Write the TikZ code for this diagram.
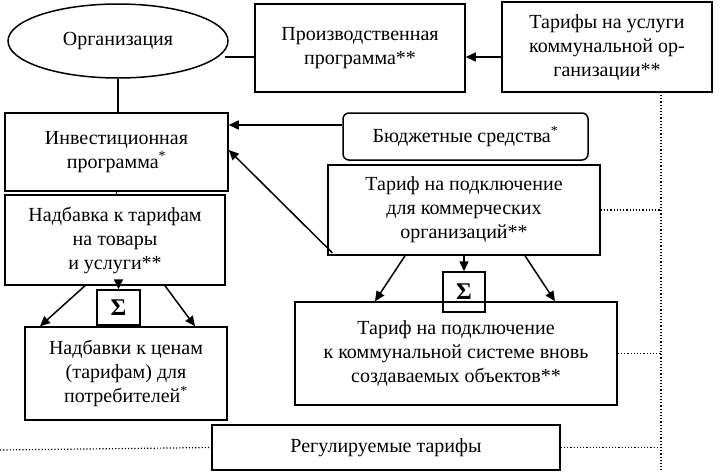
\documentclass[tikz,border=0pt]{standalone}
\usepackage{fontspec}
\setmainfont{Liberation Serif}
\usetikzlibrary{shapes.geometric,arrows.meta}
\begin{document}
\begin{tikzpicture}[x=1pt,y=-1pt,
  every node/.style={font=\fontsize{20}{24}\selectfont, align=center, inner sep=0pt},
  bx/.style={draw, line width=1.5pt},
  con/.style={line width=1.5pt},
  arr/.style={con, -{Triangle[length=10pt,width=9pt]}},
  sig/.style={bx, font=\fontsize{24}{24}\selectfont\bfseries},
  dot/.style={line width=1.2pt, dotted}]
\useasboundingbox (0,0) rectangle (720,474);
\node[draw, line width=1.5pt, ellipse, minimum width=220, minimum height=74] (org) at (118,41) {Организация};
\node[bx, minimum width=210, minimum height=88] (prod) at (360,48) {Производственная\\программа**};
\node[bx, minimum width=210, minimum height=90] (tar) at (607,47) {Тарифы на услуги\\коммунальной ор-\\ганизации**};
\node[bx, minimum width=223, minimum height=78] (inv) at (116.5,152) {Инвестиционная\\программа\textsuperscript{*}};
\node[bx, rounded corners=6pt, minimum width=245, minimum height=47] (bud) at (465.5,136.5) {Бюджетные средства\textsuperscript{*}};
\node[bx, minimum width=272, minimum height=90] (com) at (464,210) {Тариф на подключение\\для коммерческих\\организаций**};
\node[bx, minimum width=220, minimum height=90] (sur) at (115,240) {Надбавка к тарифам\\на товары\\и услуги**};
\node[sig, minimum width=43, minimum height=35] (s1) at (118.5,307.5) {Σ};
\node[bx, minimum width=202, minimum height=93] (pri) at (126,373.5) {Надбавки к ценам\\(тарифам) для\\потребителей\textsuperscript{*}};
\node[sig, minimum width=42, minimum height=40] (s2) at (464,292) {Σ};
\node[bx, minimum width=322, minimum height=103] (new) at (456,353.5) {Тариф на подключение\\к коммунальной системе вновь\\создаваемых объектов**};
\node[bx, minimum width=348, minimum height=45] (reg) at (386,447.5) {Регулируемые тарифы};
\coordinate (dt) at (661,95);
\coordinate (db) at (661,470);
\coordinate (bl) at (0,450);
\draw[con] (org.east |- 0,57) ++(-4,0) -- (prod.west |- 0,57);
\draw[arr] (tar.west |- 0,57) -- (prod.east |- 0,57);
\draw[con] (org.south) -- (inv.north -| org.south);
\draw[arr] (bud.west |- 0,125) -- (inv.east |- 0,125);
\draw[arr] (com.south west) ++(5,-3) -- (inv.east |- 0,150);
\draw[con] (inv.south) -- (sur.north -| inv.south);
\draw[arr] (sur.south -| 85,0) -- (pri.north -| 40,0);
\draw[arr] (sur.south -| 165,0) -- (pri.north -| 195,0);
\draw[arr] (sur.south -| s1.north) -- (s1.north);
\draw[arr] (com.south -| 405,0) -- (new.north -| 375,0);
\draw[arr] (com.south -| 525,0) -- (new.north -| 555,0);
\draw[arr] (com.south -| s2.north) -- (s2.north);
\draw[dot] (dt) -- (db);
\draw[dot] (com.east) -- (com.east -| dt);
\draw[dot] (new.east) -- (new.east -| dt);
\draw[dot] (reg.east) -- (reg.east -| dt);
\draw[dot] (bl) -- (reg.west);
\end{tikzpicture}
\end{document}
